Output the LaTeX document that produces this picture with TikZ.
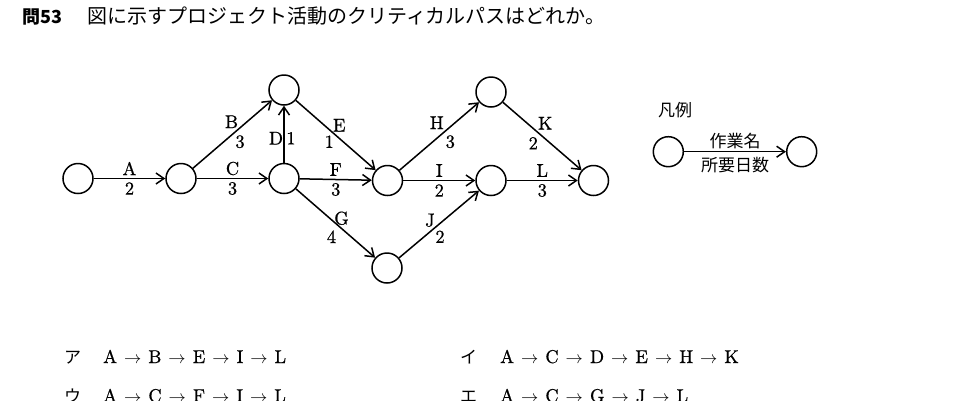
\documentclass[tikz,border=0pt]{standalone}
\usepackage{fontspec}
\setmainfont{lmroman10-regular.otf}[FakeBold=0.6]
\newfontfamily\jp{Noto Sans CJK JP}
\usetikzlibrary{arrows.meta}
\newcommand\myarr{\hspace{7pt}$\rightarrow$\hspace{7pt}}
\begin{document}
\begin{tikzpicture}[x=1pt,y=-1pt,
  ev/.style={circle,draw,line width=1.5pt,minimum size=30pt,inner sep=0pt},
  act/.style={line width=1.5pt,-{Straight Barb[length=8pt,width=11pt,line width=1.5pt]}},
  lab/.style={font=\fontsize{18.5}{18.5}\selectfont,inner sep=0pt},
  jlab/.style={font=\jp\fontsize{17}{17}\selectfont,inner sep=0pt},
  opt/.style={font=\fontsize{18.5}{18.5}\selectfont,inner sep=0pt,anchor=base west},
  jopt/.style={font=\jp\fontsize{17}{17}\selectfont,inner sep=0pt,anchor=base west},
]
\useasboundingbox (0,0) rectangle (975,400);
\clip (0,0) rectangle (975,400);
\fill[white] (0,0) rectangle (975,400);
% title
\node[font=\jp\bfseries\fontsize{18}{18}\selectfont,inner sep=0pt,anchor=base west] (qno) at (22,23) {問53};
\node[font=\jp\fontsize{20}{20}\selectfont,inner sep=0pt,anchor=base west] (title) at (87,23) {図に示すプロジェクト活動のクリティカルパスはどれか。};
% events
\node[ev] (n1) at (78,178.5) {};
\node[ev] (n2) at (181,178.5) {};
\node[ev] (n3) at (284,90) {};
\node[ev] (n4) at (284,178.5) {};
\node[ev] (n5) at (387.5,180.5) {};
\node[ev] (n6) at (491,92) {};
\node[ev] (n7) at (491,180.5) {};
\node[ev] (n8) at (387,268) {};
\node[ev] (n9) at (593.5,180.5) {};
% activities
\draw[act] (n1) -- (n2) node[lab,pos=.5,yshift=10pt]{A} node[lab,pos=.5,yshift=-10pt]{2};
\draw[act] (n2) -- (n3) node[lab,pos=.5,xshift=-1pt,yshift=12.5pt]{B} node[lab,pos=.5,xshift=7.5pt,yshift=-7.5pt]{3};
\draw[act] (n2) -- (n4) node[lab,pos=.5,yshift=10pt]{C} node[lab,pos=.5,yshift=-10pt]{3};
\draw[act] (n4) -- (n3) node[lab,pos=.5,xshift=-8pt,yshift=-4pt]{D} node[lab,pos=.5,xshift=7pt,yshift=-4pt]{1};
\draw[act] (n3) -- (n5) node[lab,pos=.5,xshift=3.5pt,yshift=10pt]{E} node[lab,pos=.5,xshift=-6.5pt,yshift=-6.5pt]{1};
\draw[act] (n4) -- (n5) node[lab,pos=.5,yshift=10pt]{F} node[lab,pos=.5,yshift=-10pt]{3};
\draw[act] (n4) -- (n8) node[lab,pos=.5,xshift=6pt,yshift=5pt]{G} node[lab,pos=.5,xshift=-4pt,yshift=-13.5pt]{4};
\draw[act] (n5) -- (n6) node[lab,pos=.5,xshift=-2.5pt,yshift=13.5pt]{H} node[lab,pos=.5,xshift=11pt,yshift=-5.5pt]{3};
\draw[act] (n5) -- (n7) node[lab,pos=.5,yshift=10pt]{I} node[lab,pos=.5,yshift=-10pt]{2};
\draw[act] (n8) -- (n7) node[lab,pos=.5,xshift=-9pt,yshift=4pt]{J} node[lab,pos=.5,xshift=1pt,yshift=-12.5pt]{2};
\draw[act] (n6) -- (n9) node[lab,pos=.5,xshift=3pt,yshift=13pt]{K} node[lab,pos=.5,xshift=-9pt,yshift=-7pt]{2};
\draw[act] (n7) -- (n9) node[lab,pos=.5,yshift=10pt]{L} node[lab,pos=.5,yshift=-10pt]{3};
% legend
\node[jlab] (leg) at (675,110) {凡例};
\node[ev] (la) at (668.3,151.7) {};
\node[ev] (lb) at (801.7,151.7) {};
\draw[act] (la) -- (lb) node[jlab,pos=.5,yshift=10.5pt]{作業名} node[jlab,pos=.5,yshift=-13pt]{所要日数};
% options
\node[jopt] (oa) at (64,363) {ア};
\node[opt] (ta) at (103,363) {A\myarr B\myarr E\myarr I\myarr L};
\node[jopt] (oi) at (460,363) {イ};
\node[opt] (ti) at (500,363) {A\myarr C\myarr D\myarr E\myarr H\myarr K};
\node[jopt] (ou) at (64,402) {ウ};
\node[opt] (tu) at (103,402) {A\myarr C\myarr F\myarr I\myarr L};
\node[jopt] (oe) at (460,402) {エ};
\node[opt] (te) at (500,402) {A\myarr C\myarr G\myarr J\myarr L};
\end{tikzpicture}
\end{document}
